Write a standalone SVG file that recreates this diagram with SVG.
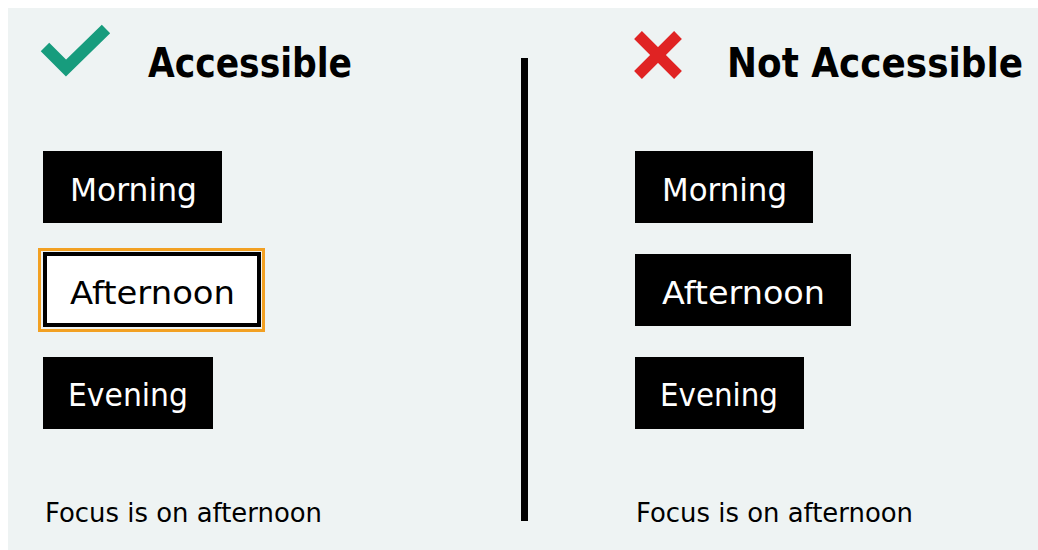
<svg xmlns="http://www.w3.org/2000/svg" width="1038" height="550" viewBox="0 0 1038 550">
<style>
.lbl{font-family:"DejaVu Sans","Noto Sans",sans-serif;font-size:32px;}
.w{fill:#ffffff;}
.k{fill:#000000;}
.head{font-family:"DejaVu Sans Condensed","DejaVu Sans",sans-serif;font-size:40px;font-weight:bold;fill:#000;}
.note{font-family:"DejaVu Sans","Noto Sans",sans-serif;font-size:26px;fill:#000;}
.btn{fill:#000;}
</style>
<rect x="0" y="0" width="1038" height="550" fill="#ffffff"/>
<rect x="8" y="8" width="1030" height="542" fill="#eef3f3"/>
<g id="check">
<polyline points="45,47 66,68 106,29" fill="none" stroke="#179c7d" stroke-width="12"/>
</g>
<g id="cross">
<line x1="638" y1="35" x2="678" y2="75" stroke="#e02323" stroke-width="11"/>
<line x1="678" y1="35" x2="638" y2="75" stroke="#e02323" stroke-width="11"/>
</g>
<g id="title-accessible"><text class="head" x="148" y="77" textLength="204" lengthAdjust="spacingAndGlyphs">Accessible</text></g>
<g id="title-not-accessible"><text class="head" x="727" y="77" textLength="296" lengthAdjust="spacingAndGlyphs">Not Accessible</text></g>
<g id="divider"><line x1="524.5" y1="58" x2="524.5" y2="521" stroke="#000" stroke-width="7"/></g>
<g id="left-morning">
<rect class="btn" x="43" y="151" width="179" height="72"/>
<text class="lbl w" x="70" y="201" textLength="127" lengthAdjust="spacingAndGlyphs">Morning</text>
</g>
<g id="left-afternoon">
<rect x="39.5" y="249.5" width="224" height="81" fill="none" stroke="#f2a022" stroke-width="3"/>
<rect x="45" y="254" width="214" height="71" fill="#ffffff" stroke="#000" stroke-width="4"/>
<text class="lbl k" x="70" y="304" textLength="165" lengthAdjust="spacingAndGlyphs">Afternoon</text>
</g>
<g id="left-evening">
<rect class="btn" x="43" y="357" width="170" height="72"/>
<text class="lbl w" x="68" y="406" textLength="120" lengthAdjust="spacingAndGlyphs">Evening</text>
</g>
<g id="left-note"><text class="note" x="45" y="522" textLength="277" lengthAdjust="spacingAndGlyphs">Focus is on afternoon</text></g>
<g id="right-morning">
<rect class="btn" x="635" y="151" width="178" height="72"/>
<text class="lbl w" x="662" y="201" textLength="125" lengthAdjust="spacingAndGlyphs">Morning</text>
</g>
<g id="right-afternoon">
<rect class="btn" x="635" y="254" width="216" height="72"/>
<text class="lbl w" x="662" y="304" textLength="163" lengthAdjust="spacingAndGlyphs">Afternoon</text>
</g>
<g id="right-evening">
<rect class="btn" x="635" y="357" width="169" height="72"/>
<text class="lbl w" x="660" y="406" textLength="118" lengthAdjust="spacingAndGlyphs">Evening</text>
</g>
<g id="right-note"><text class="note" x="636" y="522" textLength="277" lengthAdjust="spacingAndGlyphs">Focus is on afternoon</text></g>
<g id="connectors"></g>
</svg>
